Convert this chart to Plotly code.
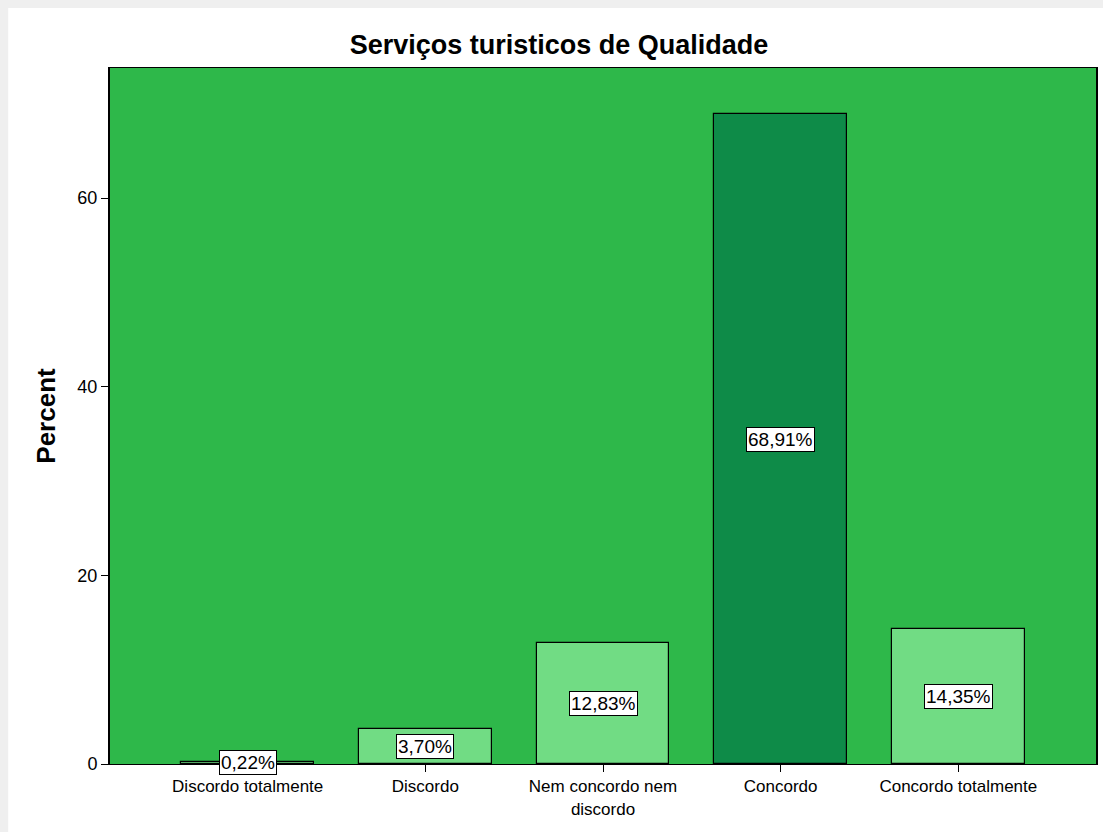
import plotly.graph_objects as go

categories = ["Discordo totalmente", "Discordo", "Nem concordo nem<br>discordo", "Concordo", "Concordo totalmente"]
values = [0.22, 3.70, 12.83, 68.91, 14.35]
labels = ["0,22%", "3,70%", "12,83%", "68,91%", "14,35%"]
bar_colors = ["#71DC84", "#71DC84", "#71DC84", "#0E8B48", "#71DC84"]
y_ticks = [0, 20, 40, 60]

FONT = "Liberation Sans, Arial, sans-serif"

fig = go.Figure()
fig.add_trace(go.Bar(
    x=list(range(len(categories))), y=values,
    width=0.747,
    marker=dict(color=bar_colors, line=dict(color="#000000", width=1.2)),
    hoverinfo="skip",
))

for i, (v, lab) in enumerate(zip(values, labels)):
    fig.add_annotation(x=i, y=v / 2, text=lab, showarrow=False,
                       font=dict(family=FONT, size=19, color="black"),
                       bgcolor="white", bordercolor="black", borderwidth=1, borderpad=1,
                       xref="x", yref="y")

# light gray frame strips (left and top) around the white panel
fig.add_shape(type="rect", xref="paper", yref="paper",
              x0=-0.12, x1=-102 / 988, y0=-0.2, y1=1.2,
              fillcolor="#EFEFEF", line=dict(width=0), layer="below")
fig.add_shape(type="rect", xref="paper", yref="paper",
              x0=-0.12, x1=1.05, y0=1 + 60 / 696, y1=1.2,
              fillcolor="#EFEFEF", line=dict(width=0), layer="below")

fig.update_layout(
    width=1103, height=832,
    margin=dict(l=110, r=5, t=68, b=68),
    paper_bgcolor="white",
    plot_bgcolor="#2EB84A",
    showlegend=False,
    bargap=0,
    title=dict(text="<b>Serviços turisticos de Qualidade</b>", x=559 / 1103, xanchor="center",
               y=1 - 45 / 832, yanchor="middle", xref="container", yref="container",
               font=dict(family=FONT, size=27, color="black")),
    font=dict(family=FONT, color="black"),
)

fig.update_xaxes(
    range=[-0.775, 4.775],
    tickmode="array", tickvals=list(range(len(categories))), ticktext=categories,
    ticks="outside", ticklen=7, tickcolor="black", tickwidth=1,
    showline=True, linecolor="black", linewidth=1, mirror=True,
    showgrid=False, zeroline=False,
    tickfont=dict(family=FONT, size=17, color="black"),
    fixedrange=True,
)
fig.update_yaxes(
    range=[0, 73.8],
    tickmode="array", tickvals=y_ticks,
    ticks="outside", ticklen=7, tickcolor="black", tickwidth=1,
    showline=True, linecolor="black", linewidth=2, mirror=True,
    showgrid=False, zeroline=False,
    tickfont=dict(family=FONT, size=18, color="black"),
    title=dict(text="<b>Percent</b>", font=dict(family=FONT, size=26, color="black"), standoff=14),
    fixedrange=True,
)

fig.write_html("out.html", config={"displayModeBar": False})
